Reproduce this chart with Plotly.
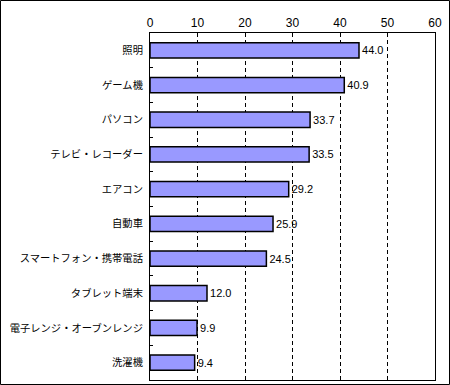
import plotly.graph_objects as go

categories = ["照明", "ゲーム機", "パソコン", "テレビ・レコーダー", "エアコン", "自動車",
              "スマートフォン・携帯電話", "タブレット端末", "電子レンジ・オーブンレンジ", "洗濯機"]
values = [44.0, 40.9, 33.7, 33.5, 29.2, 25.9, 24.5, 12.0, 9.9, 9.4]
x_ticks = [0, 10, 20, 30, 40, 50, 60]

W, H = 450, 385
L, R, T, B = 150, 15, 33, 5

fig = go.Figure(go.Bar(
    x=values, y=categories, orientation="h",
    marker=dict(color="#9999FF", line=dict(color="black", width=1.5)),
    width=0.44,
    text=[f"{v:.1f}" for v in values], textposition="outside",
    textfont=dict(family="Liberation Sans, Arial", size=11, color="black"),
    cliponaxis=False,
))

fig.update_layout(
    width=W, height=H,
    margin=dict(l=L, r=R, t=T, b=B, pad=0, autoexpand=False),
    paper_bgcolor="white", plot_bgcolor="white",
    showlegend=False,
    font=dict(family="Noto Sans CJK JP", size=11, color="black"),
    xaxis=dict(
        side="top", range=[0, 60], tickvals=x_ticks, ticktext=[str(t) for t in x_ticks],
        showgrid=True, gridcolor="black", gridwidth=1, griddash="4px,3px",
        zeroline=False, showline=True, linecolor="black", linewidth=1, mirror=True,
        ticks="", tickfont=dict(family="Liberation Sans, Arial", size=12, color="black"),
        automargin=False, fixedrange=True,
    ),
    yaxis=dict(
        autorange="reversed", showgrid=False, zeroline=False,
        showline=True, linecolor="black", linewidth=1, mirror=True,
        ticks="inside", ticklen=3, tickcolor="black", tickson="boundaries",
        tickfont=dict(family="Noto Sans CJK JP", size=10.3, color="black"),
        ticklabelstandoff=4, automargin=False, fixedrange=True,
    ),
)

pw, ph = W - L - R, H - T - B
x0 = (0.5 - L) / pw
x1 = (W - 0.5 - L) / pw
y0 = 1 - (H - 0.5 - T) / ph
y1 = 1 - (0.5 - T) / ph
fig.add_shape(type="rect", xref="paper", yref="paper", x0=x0, x1=x1, y0=y0, y1=y1,
              line=dict(color="black", width=1), fillcolor="rgba(0,0,0,0)", layer="above")

fig.write_html("out.html", config={"displayModeBar": False, "staticPlot": True},
               post_script="document.body.style.margin='0';")
